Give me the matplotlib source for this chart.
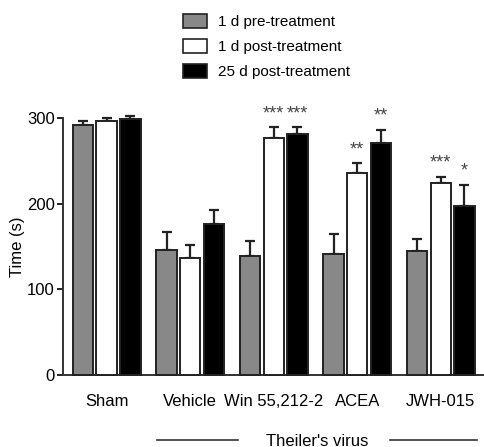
import matplotlib
matplotlib.use("Agg")
import matplotlib.pyplot as plt
import numpy as np
from matplotlib.patches import Patch

plt.rcParams['font.family'] = ['Liberation Sans', 'DejaVu Sans']

groups = ["Sham", "Vehicle", "Win 55,212-2", "ACEA", "JWH-015"]
series = ["1 d pre-treatment", "1 d post-treatment", "25 d post-treatment"]
pre_mean = [292, 146, 139, 141, 144]
pre_err = [4, 21, 17, 23, 15]
post1_mean = [296, 136, 277, 236, 224]
post1_err = [4, 16, 12, 11, 7]
post25_mean = [299, 176, 281, 271, 197]
post25_err = [3, 16, 8, 15, 25]
sig_pre = ["", "", "", "", ""]
sig_post1 = ["", "", "***", "**", "***"]
sig_post25 = ["", "", "***", "**", "*"]
yticks = [0, 100, 200, 300]
bracket_label = "Theiler's virus"

means = [pre_mean, post1_mean, post25_mean]
errs = [pre_err, post1_err, post25_err]
sigs = [sig_pre, sig_post1, sig_post25]
colors = ["#888888", "#ffffff", "#000000"]

fig = plt.figure(figsize=(4.85, 4.47), dpi=100)
ax = fig.add_axes([0.130, 0.162, 0.870, 0.574])

x = np.arange(len(groups))
step = 0.283
width = 0.245
for i in range(3):
    pos = x + (i - 1) * step
    ax.bar(pos, means[i], width=width, color=colors[i], edgecolor="#222222",
           linewidth=1.4, zorder=3, clip_on=False)
    ax.errorbar(pos, means[i], yerr=[np.zeros(len(groups)), errs[i]], fmt='none',
                ecolor="#222222", elinewidth=1.6, capsize=3.8, capthick=1.6,
                zorder=2, clip_on=False)
    for j, s in enumerate(sigs[i]):
        if s:
            ax.text(pos[j], means[i][j] + errs[i][j] + 6, s, ha='center', va='bottom',
                    fontsize=13, color="#444444")

ax.set_xlim(-0.523, 4.53)
ax.set_ylim(0, 300)
ax.set_yticks(yticks)
ax.set_yticklabels([str(t) for t in yticks], fontsize=12)
ax.set_xticks(x)
ax.set_xticklabels(groups, fontsize=12)
ax.tick_params(axis='x', length=0, pad=14)
ax.tick_params(axis='y', length=4, width=1.2, direction='out', pad=2)
ax.set_ylabel("Time (s)", fontsize=12, labelpad=1)
for sp in ['top', 'right']:
    ax.spines[sp].set_visible(False)
for sp in ['left', 'bottom']:
    ax.spines[sp].set_linewidth(1.4)
    ax.spines[sp].set_color('#333333')

# Theiler's virus bracket (figure coords)
fig.text(317 / 485, 1 - 441 / 447, bracket_label, ha='center', va='center', fontsize=12)
fig.add_artist(plt.Line2D([157 / 485, 238 / 485], [1 - 440 / 447] * 2, color='#333333', lw=1.2))
fig.add_artist(plt.Line2D([390 / 485, 477 / 485], [1 - 440 / 447] * 2, color='#333333', lw=1.2))

# legend
handles = [Patch(facecolor=colors[i], edgecolor="#222222", linewidth=1.2) for i in range(3)]
leg = fig.legend(handles, series, loc='upper left', bbox_to_anchor=(0.355, 0.992),
                 frameon=False, fontsize=11, handlelength=1.57, handleheight=1.0,
                 labelspacing=0.65, handletextpad=0.75, borderaxespad=0.3)

fig.savefig("out.png", dpi=100)
